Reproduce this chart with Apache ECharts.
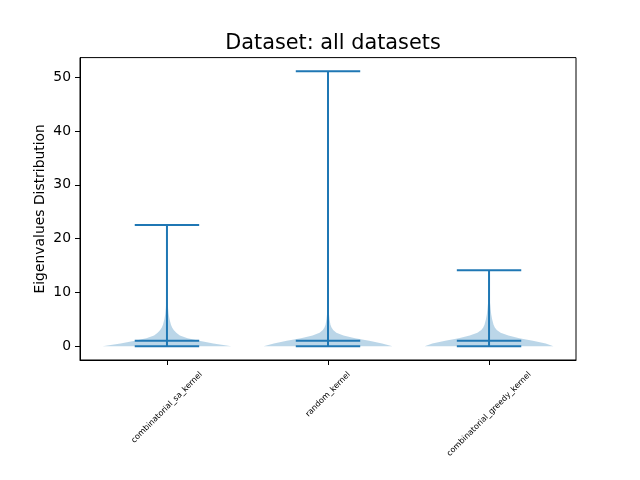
<!DOCTYPE html>
<html><head><meta charset="utf-8">
<script src="https://cdn.jsdelivr.net/npm/echarts@6/dist/echarts.min.js"></script>
<style>html,body{margin:0;padding:0;background:#fff}#c{width:640px;height:480px}</style>
</head><body><div id="c"></div>
<script>
const categories = ['combinatorial_sa_kernel', 'random_kernel', 'combinatorial_greedy_kernel'];
const positions = [1, 2, 3];
const minValues = [0, 0, 0];
const maxValues = [22.54, 51.1, 14.15];
const meanValues = [1.0, 1.0, 1.0];
const yTicks = [0, 10, 20, 30, 40, 50];
// density profiles: [value, relative density (max = 1)]
const densitySa = [[0,1],[0.5,0.72],[1,0.5],[1.5,0.32],[2,0.2],[2.5,0.145],[3,0.105],[3.5,0.08],[4,0.062],[5,0.04],[6,0.026],[7,0.018],[8,0.012],[10,0.007],[13,0.004],[17,0.002],[22.54,0.001]];
const densityRandom = [[0,1],[0.5,0.84],[1,0.64],[1.5,0.42],[2,0.24],[2.5,0.13],[3,0.08],[3.5,0.055],[4,0.038],[5,0.024],[6,0.015],[8,0.008],[10,0.005],[14,0.0025],[20,0.0012],[30,0.0006],[51.1,0.0003]];
const densityGreedy = [[0,1],[0.5,0.88],[1,0.68],[1.5,0.47],[2,0.3],[2.5,0.18],[3,0.12],[3.5,0.09],[4,0.07],[5,0.048],[6,0.033],[7,0.024],[8,0.016],[9,0.01],[10,0.006],[12,0.003],[14.15,0.001]];
const densities = [densitySa, densityRandom, densityGreedy];

const violinWidth = 0.8;
const C0 = '#1f77b4';
const FONT = 'DejaVu Sans';
const xLabelSize = 8;

// measure label widths to center rotated labels like matplotlib
const cv = document.createElement('canvas').getContext('2d');
cv.font = xLabelSize + 'px "' + FONT + '"';
const rich = {};
categories.forEach((c, i) => {
  const L = cv.measureText(c).width;
  const H = xLabelSize * 1.17;
  const p = (L + H) / 2;
  rich['l' + i] = { fontSize: xLabelSize, fontFamily: FONT, color: '#000', padding: [p, p, 0, 0] };
});

const chart = echarts.init(document.getElementById('c'), null, { renderer: 'canvas' });
const data = positions.map((p, i) => [p, minValues[i], maxValues[i], meanValues[i], i]);

chart.setOption({
  animation: false,
  backgroundColor: '#fff',
  title: {
    text: 'Dataset: all datasets',
    left: 328, top: 28, textAlign: 'center',
    textStyle: { fontFamily: FONT, fontSize: 20.8, fontWeight: 'normal', color: '#000' }
  },
  grid: { left: 80, right: 64, top: 57.6, bottom: 120, show: true, borderColor: '#000', borderWidth: 1, backgroundColor: 'transparent' },
  xAxis: {
    type: 'value', min: 0.46, max: 3.54,
    splitLine: { show: false },
    axisLine: { show: true, onZero: false, lineStyle: { color: '#000', width: 1 } },
    axisTick: { show: true, customValues: positions, length: 5, lineStyle: { color: '#000' } },
    axisLabel: {
      customValues: positions, rotate: 45, margin: 10, align: 'center', verticalAlign: 'middle',
      formatter: v => { const i = positions.indexOf(v); return i < 0 ? '' : '{l' + i + '|' + categories[i] + '}'; },
      rich: rich
    }
  },
  yAxis: {
    type: 'value', min: -2.555, max: 53.655,
    name: 'Eigenvalues Distribution', nameLocation: 'middle', nameGap: 33, nameMoveOverlap: false,
    nameTextStyle: { fontFamily: FONT, fontSize: 13.9, color: '#000' },
    splitLine: { show: false },
    axisLine: { show: true, onZero: false, lineStyle: { color: '#000', width: 1 } },
    axisTick: { show: true, customValues: yTicks, length: 5, lineStyle: { color: '#000' } },
    axisLabel: { customValues: yTicks, margin: 9, fontFamily: FONT, fontSize: 13.9, color: '#000' }
  },
  series: [
    {
      type: 'custom', name: 'bodies', data: data, encode: { x: 0, y: [1, 2] }, z: 2,
      renderItem: (params, api) => {
        const pos = api.value(0), i = api.value(4);
        const dens = densities[i];
        const half = violinWidth / 2;
        const right = dens.map(d => api.coord([pos + d[1] * half, d[0]]));
        const left = dens.slice().reverse().map(d => api.coord([pos - d[1] * half, d[0]]));
        return { type: 'polygon', shape: { points: right.concat(left) }, style: { fill: C0, opacity: 0.3, stroke: null } };
      }
    },
    {
      type: 'custom', name: 'lines', data: data, encode: { x: 0, y: [1, 2] }, z: 3,
      renderItem: (params, api) => {
        const pos = api.value(0), mn = api.value(1), mx = api.value(2), mean = api.value(3);
        const hl = violinWidth / 4;
        const seg = (a, b) => ({ type: 'line', shape: { x1: a[0], y1: a[1], x2: b[0], y2: b[1] }, style: { stroke: C0, lineWidth: 2 } });
        return { type: 'group', children: [
          seg(api.coord([pos, mn]), api.coord([pos, mx])),
          seg(api.coord([pos - hl, mn]), api.coord([pos + hl, mn])),
          seg(api.coord([pos - hl, mx]), api.coord([pos + hl, mx])),
          seg(api.coord([pos - hl, mean]), api.coord([pos + hl, mean]))
        ] };
      }
    }
  ]
});
</script></body></html>
